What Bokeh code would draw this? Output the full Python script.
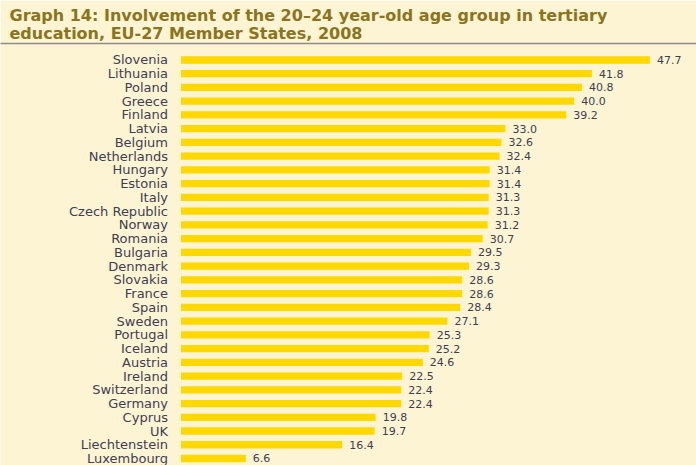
from bokeh.plotting import figure
from bokeh.models import Range1d, LinearAxis, FixedTicker, Title, ColumnDataSource
from bokeh.embed import file_html
from bokeh.resources import INLINE
from bokeh.core.properties import value

countries = ["Slovenia", "Lithuania", "Poland", "Greece", "Finland", "Latvia", "Belgium",
             "Netherlands", "Hungary", "Estonia", "Italy", "Czech Republic", "Norway",
             "Romania", "Bulgaria", "Denmark", "Slovakia", "France", "Spain", "Sweden",
             "Portugal", "Iceland", "Austria", "Ireland", "Switzerland", "Germany",
             "Cyprus", "UK", "Liechtenstein", "Luxembourg"]
values = [47.7, 41.8, 40.8, 40.0, 39.2, 33.0, 32.6, 32.4, 31.4, 31.4, 31.3, 31.3, 31.2,
          30.7, 29.5, 29.3, 28.6, 28.6, 28.4, 27.1, 25.3, 25.2, 24.6, 22.5, 22.4, 22.4,
          19.8, 19.7, 16.4, 6.6]

BG = "#FDF4D4"
BAR = "#FFD800"
TXT = "#3E3E52"
TITLE_C = "#8A7420"

n = len(countries)
src = ColumnDataSource(dict(
    y=list(range(n)),
    country=countries,
    val=values,
    label=["%.1f" % v for v in values],
))

p = figure(width=696, height=465, output_backend="svg", toolbar_location=None,
           x_range=Range1d(-18.36, 52.44), y_range=Range1d(n - 1 + 0.51, -1.2),
           x_axis_type=None, y_axis_type=None, min_border=0, min_border_top=43,
           background_fill_color=BG, border_fill_color=BG, outline_line_color=None)
p.grid.visible = False

top_axis = LinearAxis(ticker=FixedTicker(ticks=[]), axis_line_color="#8C8C8C",
                      axis_line_width=1.5, major_tick_line_color=None,
                      minor_tick_line_color=None, major_label_text_font_size="0px")
p.add_layout(top_axis, "above")

t2 = Title(text="education, EU-27 Member States, 2008", text_font="DejaVu Sans",
           text_font_style="bold", text_font_size="16px", text_color=TITLE_C,
           align="left", offset=9, standoff=1)
t1 = Title(text="Graph 14: Involvement of the 20\u201324 year-old age group in tertiary",
           text_font="DejaVu Sans", text_font_style="bold", text_font_size="16px",
           text_color=TITLE_C, align="left", offset=9, standoff=-6)
p.add_layout(t2, "above")
p.add_layout(t1, "above")

p.hbar(y="y", right="val", left=0, height=0.53, source=src, fill_color=BAR,
       line_color=None)

p.text(x=0, y="y", text="country", source=src, x_offset=-13,
       text_align="right", text_baseline="middle", text_font=value("DejaVu Sans"),
       text_font_size="13px", text_color=TXT)
p.text(x="val", y="y", text="label", source=src, x_offset=7,
       text_align="left", text_baseline="middle", text_font=value("DejaVu Sans"),
       text_font_size="11px", text_color=TXT)

open("out.html", "w").write(file_html(p, INLINE))
